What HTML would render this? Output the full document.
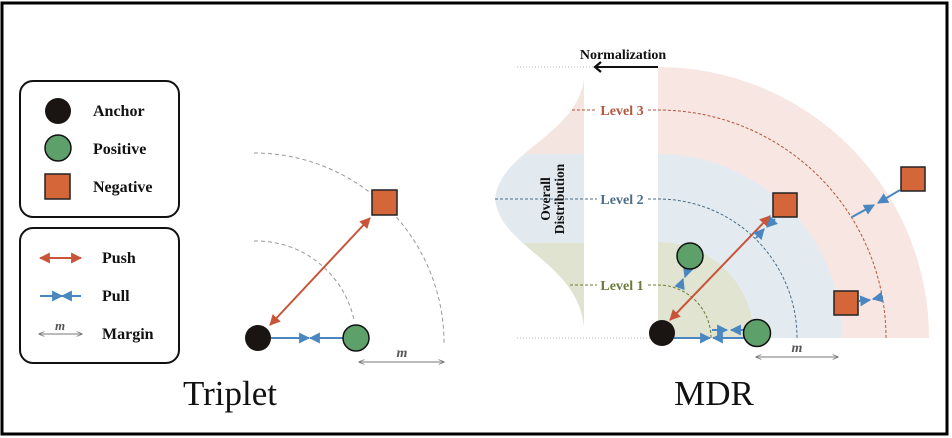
<!DOCTYPE html>
<html><head><meta charset="utf-8"><style>
html,body{margin:0;padding:0;background:#fff;}
svg{display:block;}
text{font-family:"Liberation Serif",serif;}
.b{font-weight:bold;font-size:16px;fill:#111;}
</style></head><body>
<svg width="952" height="438" viewBox="0 0 952 438" xmlns="http://www.w3.org/2000/svg">
<defs>
<marker id="ar" viewBox="0 0 10 10" refX="9" refY="5" markerWidth="5.5" markerHeight="5.5" orient="auto-start-reverse"><path d="M0,0L10,5L0,10z" fill="#c8553a"/></marker>
<marker id="ab" viewBox="0 0 10 10" refX="9" refY="5" markerWidth="5.5" markerHeight="5.5" orient="auto-start-reverse"><path d="M0,0L10,5L0,10z" fill="#4a86c0"/></marker>
<marker id="ag" viewBox="0 0 10 10" refX="9" refY="5" markerWidth="6" markerHeight="6" orient="auto-start-reverse"><path d="M0,1L10,5L0,9" fill="none" stroke="#777" stroke-width="1.3"/></marker>
<clipPath id="bell"><path d="M584,78 C578,135 500,150 495,199 C500,248 578,262 584,327 Z"/></clipPath>
</defs>
<rect x="2" y="3" width="945" height="431" fill="#fff" stroke="#000" stroke-width="3"/>

<!-- Legends -->
<rect x="20" y="81" width="159" height="136" rx="13" fill="#fff" stroke="#111" stroke-width="2"/>
<circle cx="58" cy="111" r="13" fill="#1a1412"/>
<circle cx="58" cy="148" r="13" fill="#5ea06a" stroke="#111" stroke-width="1.5"/>
<rect x="45" y="174" width="25" height="25" fill="#d4663a" stroke="#222" stroke-width="1.5"/>
<text x="93" y="116" class="b">Anchor</text>
<text x="93" y="154" class="b">Positive</text>
<text x="93" y="192" class="b">Negative</text>

<rect x="20" y="228" width="159" height="135" rx="13" fill="#fff" stroke="#111" stroke-width="2"/>
<line x1="40" y1="258" x2="81" y2="258" stroke="#c8553a" stroke-width="2" marker-start="url(#ar)" marker-end="url(#ar)"/>
<line x1="40" y1="296" x2="62" y2="296" stroke="#4a86c0" stroke-width="2" marker-end="url(#ab)"/>
<line x1="81" y1="296" x2="62" y2="296" stroke="#4a86c0" stroke-width="2" marker-end="url(#ab)"/>
<line x1="39" y1="334" x2="82" y2="334" stroke="#777" stroke-width="1" marker-start="url(#ag)" marker-end="url(#ag)"/>
<text x="60" y="330" font-size="13" font-style="italic" font-weight="bold" fill="#555" text-anchor="middle">m</text>
<text x="102" y="263" class="b">Push</text>
<text x="102" y="301" class="b">Pull</text>
<text x="102" y="339" class="b">Margin</text>

<!-- Triplet -->
<path d="M254,153 A190,190 0 0 1 444,345" fill="none" stroke="#999" stroke-width="1" stroke-dasharray="4,3"/>
<path d="M254,241 A100,100 0 0 1 354,320" fill="none" stroke="#999" stroke-width="1" stroke-dasharray="4,3"/>
<line x1="270" y1="325" x2="370" y2="218" stroke="#c8553a" stroke-width="2" marker-start="url(#ar)" marker-end="url(#ar)"/>
<line x1="271" y1="338" x2="309" y2="338" stroke="#4a86c0" stroke-width="2" marker-end="url(#ab)"/>
<line x1="343" y1="338" x2="310" y2="338" stroke="#4a86c0" stroke-width="2" marker-end="url(#ab)"/>
<circle cx="258" cy="338" r="13" fill="#1a1412"/>
<circle cx="356" cy="338" r="13" fill="#5ea06a" stroke="#111" stroke-width="1.5"/>
<rect x="372" y="190" width="25" height="25" fill="#d4663a" stroke="#222" stroke-width="1.5"/>
<line x1="359" y1="362" x2="444" y2="362" stroke="#777" stroke-width="1" marker-start="url(#ag)" marker-end="url(#ag)"/>
<text x="402" y="357" font-size="14" font-style="italic" font-weight="bold" fill="#555" text-anchor="middle">m</text>
<text x="230" y="405" font-size="35" fill="#111" text-anchor="middle">Triplet</text>

<!-- MDR -->
<line x1="517" y1="67" x2="658" y2="67" stroke="#bbb" stroke-width="1" stroke-dasharray="1,2"/>
<line x1="517" y1="338" x2="658" y2="338" stroke="#bbb" stroke-width="1" stroke-dasharray="1,2"/>
<path d="M658,338 L658,67 A271,271 0 0 1 929,338 Z" fill="#f7e6e2"/>
<path d="M658,338 L658,154 A184,184 0 0 1 842,338 Z" fill="#e3ebf0"/>
<path d="M658,338 L658,242 A96,96 0 0 1 754,338 Z" fill="#e0e4d0"/>
<g clip-path="url(#bell)">
<rect x="490" y="70" width="95" height="84" fill="#f5e5e1"/>
<rect x="490" y="154" width="95" height="89" fill="#e2eaf0"/>
<rect x="490" y="243" width="95" height="90" fill="#dfe3cf"/>
</g>
<line x1="572" y1="110" x2="597" y2="110" stroke="#b5553c" stroke-width="1" stroke-dasharray="3,2"/>
<line x1="648" y1="110" x2="658" y2="110" stroke="#b5553c" stroke-width="1" stroke-dasharray="3,2"/>
<path d="M658,110 A228,228 0 0 1 886,338" fill="none" stroke="#b5553c" stroke-width="1" stroke-dasharray="3,2"/>
<line x1="495" y1="199" x2="597" y2="199" stroke="#4a6e8a" stroke-width="1" stroke-dasharray="3,2"/>
<line x1="648" y1="199" x2="658" y2="199" stroke="#4a6e8a" stroke-width="1" stroke-dasharray="3,2"/>
<path d="M658,199 A139,139 0 0 1 797,338" fill="none" stroke="#4a6e8a" stroke-width="1" stroke-dasharray="3,2"/>
<line x1="570" y1="285" x2="597" y2="285" stroke="#6b7a3a" stroke-width="1" stroke-dasharray="3,2"/>
<line x1="648" y1="285" x2="658" y2="285" stroke="#6b7a3a" stroke-width="1" stroke-dasharray="3,2"/>
<path d="M658,285 A53,53 0 0 1 711,338" fill="none" stroke="#6b7a3a" stroke-width="1" stroke-dasharray="3,2"/>
<text x="622" y="115" font-size="14" font-weight="bold" fill="#b5553c" text-anchor="middle">Level 3</text>
<text x="622" y="204" font-size="14" font-weight="bold" fill="#4a6e8a" text-anchor="middle">Level 2</text>
<text x="622" y="290" font-size="14" font-weight="bold" fill="#6b7a3a" text-anchor="middle">Level 1</text>
<g transform="translate(553,199) rotate(-90)">
<text x="0" y="-3" font-size="13.5" font-weight="bold" fill="#111" text-anchor="middle">Overall</text>
<text x="0" y="11" font-size="13.5" font-weight="bold" fill="#111" text-anchor="middle">Distribution</text>
</g>
<text x="623" y="59" font-size="14" font-weight="bold" fill="#111" text-anchor="middle">Normalization</text>
<line x1="658" y1="67" x2="595" y2="67" stroke="#111" stroke-width="2"/>
<path d="M601,62 L595,67 L601,72" fill="none" stroke="#111" stroke-width="2.2"/>

<!-- arrows -->
<line x1="670" y1="320" x2="770" y2="216" stroke="#c8553a" stroke-width="2" marker-start="url(#ar)" marker-end="url(#ar)"/>
<line x1="756" y1="238" x2="764" y2="229" stroke="#4a86c0" stroke-width="2" marker-end="url(#ab)"/>
<line x1="775" y1="219" x2="767" y2="227" stroke="#4a86c0" stroke-width="2" marker-end="url(#ab)"/>
<line x1="852" y1="217" x2="874" y2="205" stroke="#4a86c0" stroke-width="2" marker-end="url(#ab)"/>
<line x1="900" y1="190" x2="878" y2="203" stroke="#4a86c0" stroke-width="2" marker-end="url(#ab)"/>
<line x1="859" y1="301" x2="870" y2="300" stroke="#4a86c0" stroke-width="2" marker-end="url(#ab)"/>
<line x1="883" y1="297" x2="873" y2="299" stroke="#4a86c0" stroke-width="2" marker-end="url(#ab)"/>
<line x1="680" y1="287" x2="683" y2="279" stroke="#4a86c0" stroke-width="2" marker-end="url(#ab)"/>
<line x1="688" y1="268" x2="685" y2="277" stroke="#4a86c0" stroke-width="2" marker-end="url(#ab)"/>
<line x1="674" y1="338" x2="710" y2="338" stroke="#4a86c0" stroke-width="2" marker-end="url(#ab)"/>
<line x1="745" y1="338" x2="713" y2="338" stroke="#4a86c0" stroke-width="2" marker-end="url(#ab)"/>
<line x1="712" y1="330" x2="727" y2="330" stroke="#4a86c0" stroke-width="2" marker-end="url(#ab)"/>
<line x1="745" y1="330" x2="731" y2="330" stroke="#4a86c0" stroke-width="2" marker-end="url(#ab)"/>
<circle cx="662" cy="333" r="13" fill="#1a1412"/>
<circle cx="757" cy="333" r="13.5" fill="#5ea06a" stroke="#111" stroke-width="1.5"/>
<circle cx="690" cy="256" r="13" fill="#5ea06a" stroke="#111" stroke-width="1.5"/>
<rect x="773" y="193" width="24" height="24" fill="#d4663a" stroke="#222" stroke-width="1.5"/>
<rect x="901" y="167" width="24" height="24" fill="#d4663a" stroke="#222" stroke-width="1.5"/>
<rect x="834" y="291" width="24" height="24" fill="#d4663a" stroke="#222" stroke-width="1.5"/>
<line x1="756" y1="357" x2="838" y2="357" stroke="#777" stroke-width="1" marker-start="url(#ag)" marker-end="url(#ag)"/>
<text x="797" y="352" font-size="14" font-style="italic" font-weight="bold" fill="#555" text-anchor="middle">m</text>
<text x="714" y="405" font-size="35" fill="#111" text-anchor="middle">MDR</text>
</svg>
</body></html>
